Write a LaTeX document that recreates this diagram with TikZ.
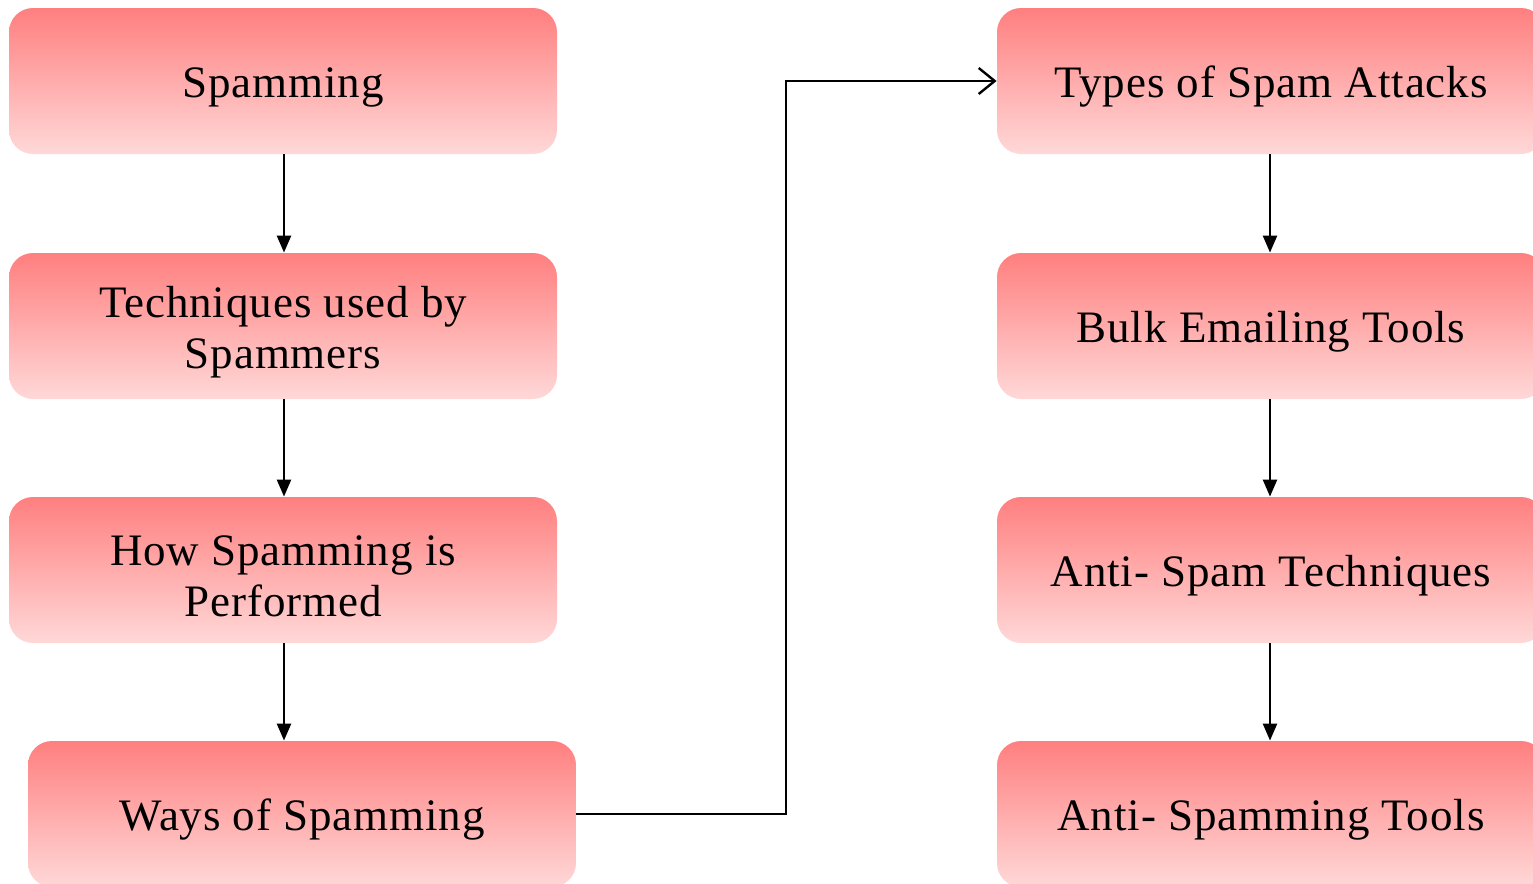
\documentclass[tikz,border=0pt]{standalone}
\usepackage{fontspec}
\setmainfont{Liberation Serif}[LetterSpace=2]
\usetikzlibrary{arrows.meta}
\definecolor{boxtop}{HTML}{FF7F7F}
\definecolor{boxbot}{HTML}{FFD8D8}
\tikzset{
  boxtext/.style={align=center, inner sep=0pt, yshift=-3pt,
    font=\fontsize{22.5}{25.5}\selectfont},
  pbox/.style={rectangle, rounded corners=12pt, minimum width=274pt, minimum height=73pt,
    inner sep=0pt, top color=boxtop, bottom color=boxbot, draw=none,
    label={[boxtext]center:#1}},
  flow/.style={line width=1.2pt, -{Triangle[length=8.5pt,width=7pt]}},
  jump/.style={line width=1.2pt, -{Straight Barb[length=8pt,width=13pt,line width=1.2pt]}}
}
\begin{document}
\begin{tikzpicture}[x=0.5pt,y=-0.5pt]
\useasboundingbox (0,0) rectangle (1533,884);
\node[pbox={Spamming}] (spam) at (283,81) {};
\node[pbox={Techniques used by\\Spammers}] (tech) at (283,326) {};
\node[pbox={How Spamming is\\Performed}] (how) at (283,570) {};
\node[pbox={Ways of Spamming}] (ways) at (302,814) {};
\node[pbox={Types of Spam Attacks}] (types) at (1271,81) {};
\node[pbox={Bulk Emailing Tools}] (bulk) at (1271,326) {};
\node[pbox={Anti- Spam Techniques}] (anti) at (1271,570) {};
\node[pbox={Anti- Spamming Tools}] (tools) at (1271,814) {};
\coordinate (bend) at (786,814);
\draw[flow] (spam.south -| 284,0) -- (tech.north -| 284,0);
\draw[flow] (tech.south -| 284,0) -- (how.north -| 284,0);
\draw[flow] (how.south -| 284,0) -- (ways.north -| 284,0);
\draw[flow] (types.south -| 1270,0) -- (bulk.north -| 1270,0);
\draw[flow] (bulk.south -| 1270,0) -- (anti.north -| 1270,0);
\draw[flow] (anti.south -| 1270,0) -- (tools.north -| 1270,0);
\draw[jump] (ways.east) -- (bend) |- (types.west);
\end{tikzpicture}
\end{document}
